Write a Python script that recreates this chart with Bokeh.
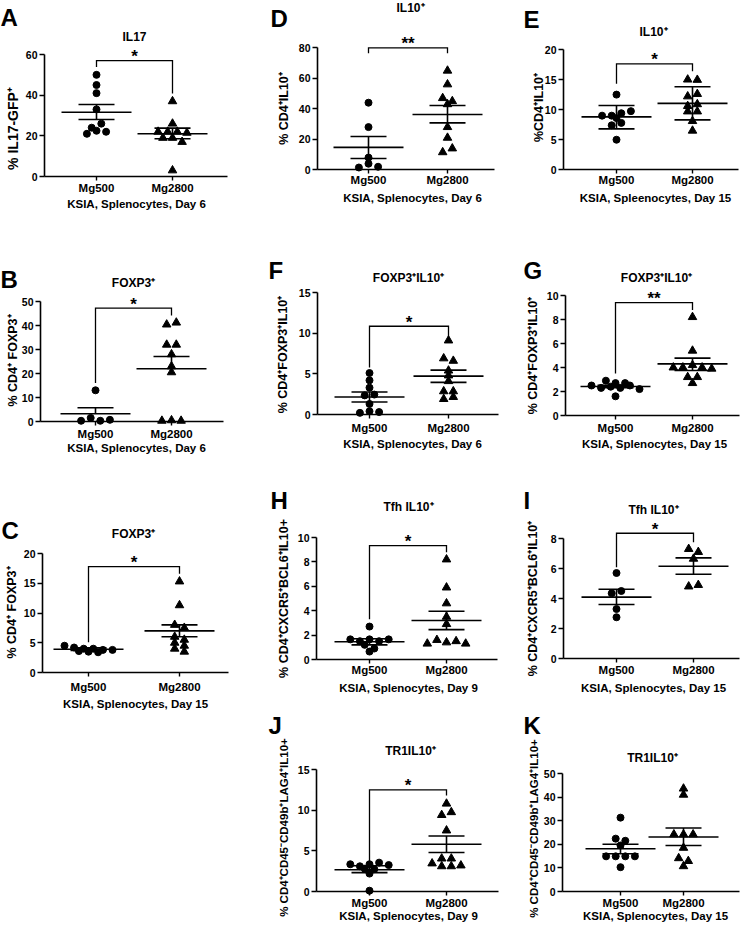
import math
from bokeh.plotting import figure
from bokeh.models import FixedTicker, LinearAxis, Range1d
from bokeh.embed import file_html
from bokeh.resources import INLINE
from bokeh.core.properties import value

GROUPS = ["Mg500", "Mg2800"]

# ---------------- data ----------------
A_mg500 = [50, 45, 41, 33, 24, 26, 21, 22.5, 22]
A_mg2800 = [37, 26, 22, 22, 22, 21.5, 19, 19, 17, 3]
A_mean, A_hi, A_lo = [31.6, 21.0], [35.4, 23.8], [28.0, 18.6]
A_bracket, A_sig = [53.8, 57.0, 40.8], "*"
A_yticks = [0, 20, 40, 60]

B_mg500 = [13, 0.3, 1.5, 0.3, 0.7]
B_mg2800 = [40.4, 41.2, 32, 32, 28, 23, 20.5, 0.3, 0.5, 0.3]
B_mean, B_hi, B_lo = [3.2, 22.0], [5.7, 27.1], [None, None]
B_bracket, B_sig = [16.0, 47.2, 44.2], "*"
B_yticks = [0, 10, 20, 30, 40, 50]

C_mg500 = [4.5, 4.2, 4.0, 4.0, 3.8, 3.8, 3.6, 3.5, 3.4]
C_mg2800 = [15.3, 11.3, 8.0, 7.5, 6.0, 5.5, 5.0, 4.5, 4.0, 3.5]
C_mean, C_hi, C_lo = [3.9, 7.0], [4.15, 8.0], [3.7, 6.0]
C_bracket, C_sig = [5.1, 17.8, 16.6], "*"
C_yticks = [0, 5, 10, 15, 20]

D_mg500 = [44, 28, 8, 1.5, 4, 2]
D_mg2800 = [65, 56, 47, 43, 45, 28, 21, 11.5, 14]
D_mean, D_hi, D_lo = [14.7, 36.3], [21.8, 42.2], [7.4, 30.8]
D_bracket, D_sig = [76.5, 80.0, 76.5], "**"
D_yticks = [0, 20, 40, 60, 80]

E_mg500 = [12.5, 9.0, 9.0, 9.4, 8.6, 9.75, 7.4, 7.8, 5.0]
E_mg2800 = [15.0, 14.95, 12.2, 12.6, 10.6, 10.9, 9.7, 9.7, 8.1, 6.5]
E_mean, E_hi, E_lo = [8.8, 11.05], [10.7, 13.8], [6.8, 8.3]
E_bracket, E_sig = [14.3, 17.6, 16.4], "*"
E_yticks = [0, 5, 10, 15, 20]

F_mg500 = [5.1, 4.2, 3.3, 2.35, 2.45, 1.3, 0.2, 0.4, 0.3]
F_mg2800 = [9.1, 6.9, 6.6, 5.4, 4.8, 4.1, 2.85, 2.85, 1.9, 2.15]
F_mean, F_hi, F_lo = [2.15, 4.72], [2.76, 5.45], [1.54, 3.95]
F_bracket, F_sig = [5.77, 10.85, 9.5], "*"
F_yticks = [0, 5, 10, 15]

G_mg500 = [2.5, 2.9, 2.3, 2.4, 2.7, 2.7, 2.3, 2.5, 2.2, 1.6]
G_mg2800 = [8.2, 5.4, 4.0, 4.0, 4.2, 4.0, 3.2, 3.2, 2.7, 3.9]
G_mean, G_hi, G_lo = [2.42, 4.3], [2.52, 4.78], [2.32, 3.75]
G_bracket, G_sig = [3.5, 9.4, 8.8], "**"
G_yticks = [0, 2, 4, 6, 8, 10]

H_mg500 = [2.7, 1.65, 1.5, 1.65, 1.5, 1.65, 0.65, 1.2, 0.9]
H_mg2800 = [8.2, 5.9, 4.6, 3.5, 2.9, 1.3, 1.6, 1.4, 1.5, 1.3]
H_mean, H_hi, H_lo = [1.45, 3.2], [1.7, 3.95], [1.2, 2.45]
H_bracket, H_sig = [3.3, 9.34, 8.8], "*"
H_yticks = [0, 2, 4, 6, 8, 10]

I_mg500 = [5.7, 4.35, 4.5, 3.3, 2.75]
I_mg2800 = [7.3, 7.1, 6.65, 4.8, 4.9]
I_mean, I_hi, I_lo = [4.09, 6.15], [4.62, 6.71], [3.6, 5.62]
I_bracket, I_sig = [6.09, 8.35, 7.75], "*"
I_yticks = [0, 2, 4, 6, 8]

J_mg500 = [3.35, 3.1, 3.35, 3.55, 3.25, 2.8, 2.2, 2.75, 0.1]
J_mg2800 = [10.8, 9.4, 9.75, 7.5, 4.05, 3.45, 4.05, 3.1, 3.1, 3.2]
J_mean, J_hi, J_lo = [2.68, 5.81], [3.17, 6.83], [2.32, 4.8]
J_bracket, J_sig = [3.65, 12.5, 11.8], "*"
J_yticks = [0, 5, 10, 15]

K_mg500 = [31.3, 22.4, 21.5, 19.5, 14.9, 14.9, 14.9, 14.9, 10.3]
K_mg2800 = [43.6, 41.0, 24.2, 24.2, 24.2, 18.5, 14.1, 12.9, 10.7]
K_mean, K_hi, K_lo = [18.1, 23.1], [20.0, 26.9], [16.0, 19.5]
K_bracket, K_sig = None, None
K_yticks = [0, 10, 20, 30, 40, 50]

TITLES = {"A": "IL17", "B": "FOXP3⁺", "C": "FOXP3⁺", "D": "IL10⁺", "E": "IL10⁺",
          "F": "FOXP3⁺IL10⁺", "G": "FOXP3⁺IL10⁺", "H": "Tfh IL10⁺", "I": "Tfh IL10⁺",
          "J": "TR1IL10⁺", "K": "TR1IL10⁺"}
YLABELS = {"A": "% IL17-GFP⁺", "B": "% CD4⁺ FOXP3⁺", "C": "% CD4⁺ FOXP3⁺",
           "D": "% CD4⁺IL10⁺", "E": "%CD4⁺IL10⁺", "F": "% CD4⁺FOXP3⁺IL10⁺",
           "G": "% CD4⁺FOXP3⁺IL10⁺", "H": "% CD4⁺CXCR5⁺BCL6⁺IL10+",
           "I": "% CD4⁺CXCR5⁺BCL6⁺IL10⁺", "J": "% CD4⁺CD45⁻CD49b⁺LAG4⁺IL10+",
           "K": "% CD4⁺CD45⁻CD49b⁺LAG4⁺IL10+"}
XLABELS = {"A": "KSIA, Splenocytes, Day 6", "B": "KSIA, Splenocytes, Day 6",
           "C": "KSIA, Splenocytes, Day 15", "D": "KSIA, Splenocytes, Day 6",
           "E": "KSIA, Spleenocytes, Day 15", "F": "KSIA, Splenocytes, Day 6",
           "G": "KSIA, Splenocytes, Day 15", "H": "KSIA, Splenocytes, Day 9",
           "I": "KSIA, Splenocytes, Day 15", "J": "KSIA, Splenocytes, Day 9",
           "K": "KSIA, Splenocytes, Day 15"}

KEYS = "ABCDEFGHIJK"
G_ = globals()
DATA = {k: dict(groups=(G_[k + "_mg500"], G_[k + "_mg2800"]), mean=G_[k + "_mean"],
                hi=G_[k + "_hi"], lo=G_[k + "_lo"], bracket=G_[k + "_bracket"],
                sig=G_[k + "_sig"], yticks=G_[k + "_yticks"]) for k in KEYS}

# ---------------- layout (page pixels, origin top-left) ----------------
W, H = 745, 922
LAYOUT = {
    "A": dict(ax=44, xend=227, y0=176, top_px=54, xpx=(96, 172), xtick_y=187, title=(134, 36), letter=(0, 17), ylab=(12.5, 128), ylab_size=14, xlab=(136, 203)),
    "B": dict(ax=40, xend=223, y0=421, top_px=301, xpx=(95, 171), xtick_y=433, title=(133, 282), letter=(0, 279), ylab=(12, 360), xlab=(136, 447)),
    "C": dict(ax=42, xend=228, y0=672, top_px=553, xpx=(88, 179), xtick_y=686, title=(133, 533), letter=(1, 530), ylab=(11, 612), xlab=(135, 703)),
    "D": dict(ax=317, xend=494, y0=169.3, top_px=47.3, xpx=(368, 447), xtick_y=180, title=(410, 7), letter=(270, 17.5), ylab=(283, 108), xlab=(412, 197)),
    "E": dict(ax=563, xend=738, y0=169.3, top_px=49, xpx=(616, 692), xtick_y=180, title=(653, 31), letter=(523, 18.5), ylab=(538, 107), xlab=(655, 197)),
    "F": dict(ax=317, xend=498, y0=414, top_px=292, xpx=(369, 448), xtick_y=427, title=(408, 277), letter=(268, 270), ylab=(282, 354), xlab=(412, 443)),
    "G": dict(ax=565, xend=739, y0=415, top_px=295, xpx=(615, 692), xtick_y=427, title=(656, 277), letter=(523, 270), ylab=(532, 355), xlab=(654, 443)),
    "H": dict(ax=316, xend=497, y0=659, top_px=537, xpx=(369, 446), xtick_y=669, title=(408, 506), letter=(270, 499.5), ylab=(283, 598), xlab=(408, 687)),
    "I": dict(ax=563, xend=739, y0=658, top_px=538, xpx=(616, 693), xtick_y=669, title=(653, 509), letter=(523, 500), ylab=(532, 598), xlab=(653, 687)),
    "J": dict(ax=316, xend=498, y0=891, top_px=769, xpx=(369, 446), xtick_y=902, title=(410, 750), letter=(268, 725), ylab=(283, 827), ylab_size=11.5, xlab=(408, 915)),
    "K": dict(ax=562, xend=739, y0=891, top_px=773, xpx=(620, 683), xtick_y=902, title=(652, 757), letter=(523, 725), ylab=(533, 828), ylab_size=11.5, xlab=(655, 915)),
}

FONT = "Liberation Sans"
MEAN_HALF_PX = 35
CAP_HALF_PX = 18
SPACING_PX = 9.6
THR_PX = 4.6

p = figure(width=W, height=H, x_range=Range1d(0, W), y_range=Range1d(H, 0),
           x_axis_type=None, y_axis_type=None, toolbar_location=None, tools="",
           output_backend="svg", min_border=0)
p.min_border_left = p.min_border_right = p.min_border_top = p.min_border_bottom = 0
p.outline_line_color = None
p.background_fill_color = "white"
p.border_fill_color = "white"


def swarm(vals, center, ppy, ppx):
    order = sorted(range(len(vals)), key=lambda i: -vals[i])
    groups = []
    for i in order:
        if groups and (vals[groups[-1][0]] - vals[i]) * ppy < THR_PX:
            groups[-1].append(i)
        else:
            groups.append([i])
    xs = [0.0] * len(vals)
    for g in groups:
        g = sorted(g)
        n = len(g)
        for k, i in enumerate(g):
            xs[i] = center + (k - (n - 1) / 2) * SPACING_PX / ppx
    return xs


xr, yr = {}, {}


def build_panel(k):
    d, L = DATA[k], LAYOUT[k]
    x500, x2800 = L["xpx"]
    ppx = float(x2800 - x500)
    y0 = L["y0"]
    top = d["yticks"][-1]
    ppy = (y0 - L["top_px"]) / top

    def xv(X):
        return 1 + (X - x500) / ppx

    def yv(Y):
        return (y0 - Y) / ppy

    kx, ky = k + "_x", k + "_y"
    xr[kx] = Range1d(xv(0), xv(W))
    yr[ky] = Range1d(yv(H), yv(0))
    rn = dict(x_range_name=kx, y_range_name=ky)

    ya = LinearAxis(fixed_location=xv(L["ax"]), bounds=(0, top),
                    ticker=FixedTicker(ticks=d["yticks"]), **rn)
    ya.minor_tick_line_color = None
    ya.major_tick_in = 0
    ya.major_tick_out = 5
    ya.axis_line_width = 1.6
    ya.major_tick_line_width = 1.4
    ya.major_label_standoff = 2
    ya.major_label_text_font = FONT
    ya.major_label_text_font_style = "bold"
    ya.major_label_text_font_size = "10.5px"
    ya.major_label_text_color = "black"
    p.add_layout(ya, "left")

    xa = LinearAxis(fixed_location=0, bounds=(xv(L["ax"]), xv(L["xend"])),
                    ticker=FixedTicker(ticks=[1, 2]), **rn)
    xa.major_label_overrides = {1: GROUPS[0], 2: GROUPS[1]}
    xa.minor_tick_line_color = None
    xa.major_tick_in = 0
    xa.major_tick_out = 4
    xa.axis_line_width = 1.6
    xa.major_tick_line_width = 1.4
    xa.major_label_standoff = max(0, int(round(L["xtick_y"] - y0 - 4 - 6.4)))
    xa.major_label_text_font = FONT
    xa.major_label_text_font_style = "bold"
    xa.major_label_text_font_size = "11.5px"
    xa.major_label_text_color = "black"
    p.add_layout(xa, "below")

    # points
    for gi, vals in enumerate(d["groups"]):
        xs = swarm(vals, gi + 1, ppy, ppx)
        if gi == 0:
            p.scatter(xs, vals, marker="circle", size=7, color="black", **rn)
        else:
            p.scatter(xs, vals, marker="triangle", size=8.5, color="black", **rn)

    # mean and error bars
    for gi in range(2):
        c = gi + 1
        m, hi, lo = d["mean"][gi], d["hi"][gi], d["lo"][gi]
        mh, ch = MEAN_HALF_PX / ppx, CAP_HALF_PX / ppx
        x0 = [c - mh, c - ch]
        x1 = [c + mh, c + ch]
        ys = [m, hi]
        if lo is not None:
            x0.append(c - ch); x1.append(c + ch); ys.append(lo)
        p.segment(x0=x0, y0=ys, x1=x1, y1=ys, line_color="black", line_width=1.6, **rn)
        p.segment(x0=[c], y0=[lo if lo is not None else m], x1=[c], y1=[hi],
                  line_color="black", line_width=1.6, **rn)

    # significance bracket
    if d["bracket"] is not None:
        lb, btop, rb = d["bracket"]
        p.line([1, 1, 2, 2], [lb, btop, btop, rb], line_color="black", line_width=1.3,
               line_join="miter", **rn)
        p.text([1.5], [btop], text=[d["sig"]], text_align="center", text_baseline="middle",
               y_offset=-4, text_font=value(FONT), text_font_style="bold",
               text_font_size="17px", text_color="black", **rn)


for k in KEYS:
    build_panel(k)

p.extra_x_ranges = xr
p.extra_y_ranges = yr

# panel texts placed on the page-pixel scale
common = dict(text_font=value(FONT), text_font_style="bold", text_color="black",
              text_baseline="middle")
p.text([LAYOUT[k]["title"][0] for k in KEYS], [LAYOUT[k]["title"][1] for k in KEYS],
       text=[TITLES[k] for k in KEYS], text_align="center", text_font_size="12px", **common)
p.text([LAYOUT[k]["letter"][0] for k in KEYS], [LAYOUT[k]["letter"][1] for k in KEYS],
       text=list(KEYS), text_align="left", text_font_size="24px", **common)
p.text([LAYOUT[k]["xlab"][0] for k in KEYS], [LAYOUT[k]["xlab"][1] for k in KEYS],
       text=[XLABELS[k] for k in KEYS], text_align="center", text_font_size="11.5px", **common)
for k in KEYS:
    L = LAYOUT[k]
    p.text([L["ylab"][0]], [L["ylab"][1]], text=[YLABELS[k]], angle=math.pi / 2,
           text_align="center", text_font_size="%gpx" % L.get("ylab_size", 12.5), **common)

open("out.html", "w").write(file_html(p, INLINE, "KSIA panels"))
